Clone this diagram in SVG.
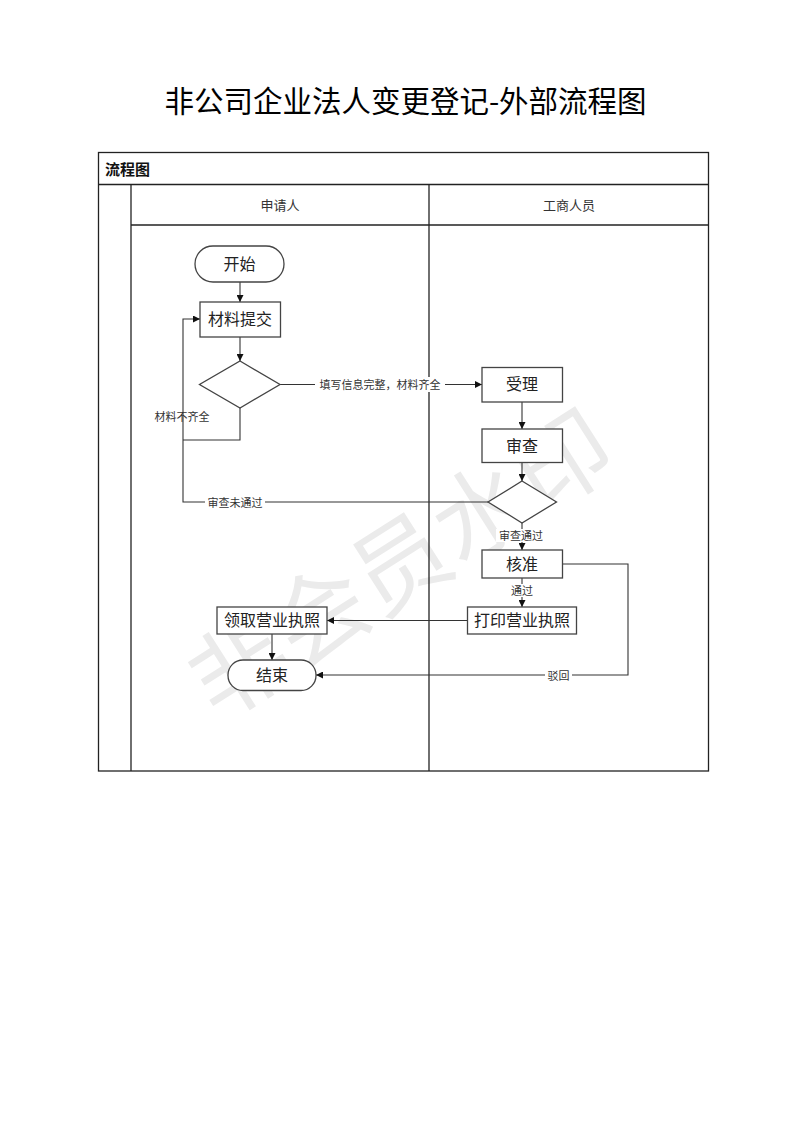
<svg xmlns="http://www.w3.org/2000/svg" width="793" height="1122" viewBox="0 0 793 1122">
<defs>
<marker id="ah" viewBox="0 0 10 10" refX="10" refY="5" markerWidth="7" markerHeight="7" markerUnits="userSpaceOnUse" orient="auto">
<path d="M0,0 L10,5 L0,10 z" fill="#111"/>
</marker>
<style>
.frame{fill:none;stroke:#222;stroke-width:1.3}
.box{fill:#fff;stroke:#444;stroke-width:1.3}
.con{fill:none;stroke:#333;stroke-width:1.1}
.arr{marker-end:url(#ah)}
.t{font-family:"Noto Sans CJK SC","Noto Sans",sans-serif;fill:#222;text-anchor:middle;dominant-baseline:central}
.node{font-size:16px}
.lbl{font-size:11px;fill:#333}
.lane{font-size:13px;fill:#333}
.bg{fill:#fff}
</style>
</defs>
<rect x="0" y="0" width="793" height="1122" fill="#fff"/>

<text x="405.5" y="99" class="t" style="font-size:29.5px;fill:#000">非公司企业法人变更登记-外部流程图</text>

<g id="watermark">
<text x="397" y="558" transform="rotate(-32.5 397 558)" class="t" style="font-size:96px;fill:#ebebeb">非会员水印</text>
</g>

<g id="frame">
<rect x="98.5" y="152.5" width="610" height="618.5" class="frame"/>
<line x1="98.5" y1="184.5" x2="708.5" y2="184.5" class="frame"/>
<line x1="131" y1="184.5" x2="131" y2="771" class="frame"/>
<line x1="131" y1="225" x2="708.5" y2="225" class="frame"/>
<line x1="429" y1="184.5" x2="429" y2="771" class="frame"/>
<text x="105" y="168" class="t" style="font-size:15px;font-weight:bold;text-anchor:start;fill:#111">流程图</text>
<text x="280" y="204" class="t lane">申请人</text>
<text x="569" y="204" class="t lane">工商人员</text>
</g>

<g id="connectors">
<path d="M240,282 V302" class="con arr"/>
<path d="M240,337 V361" class="con arr"/>
<path d="M280,384.5 H482" class="con arr"/>
<rect x="315" y="377" width="130" height="15" class="bg"/>
<text x="380" y="384" class="t lbl">填写信息完整，材料齐全</text>
<path d="M240,408 V440 H183" class="con"/>
<path d="M488,502 H183 V319 H200" class="con arr"/>
<text x="182" y="415.5" class="t lbl">材料不齐全</text>
<rect x="205" y="495" width="60" height="14" class="bg"/>
<text x="235" y="501.5" class="t lbl">审查未通过</text>
<path d="M522,402 V429" class="con arr"/>
<path d="M522,463 V481" class="con arr"/>
<path d="M522,523 V550" class="con arr"/>
<rect x="496" y="529" width="50" height="13" class="bg"/>
<text x="521" y="535" class="t lbl">审查通过</text>
<path d="M522,578 V607" class="con arr"/>
<rect x="508" y="584" width="28" height="13" class="bg"/>
<text x="522" y="590" class="t lbl">通过</text>
<path d="M467,620.5 H327" class="con arr"/>
<path d="M272,634 V660" class="con arr"/>
<path d="M562,564 H628 V675 H316" class="con arr"/>
<rect x="545" y="668" width="27" height="14" class="bg"/>
<text x="558.5" y="674.5" class="t lbl">驳回</text>
</g>

<g id="start">
<rect x="195" y="246" width="89" height="36" rx="18" ry="18" class="box"/>
<text x="239.5" y="262.5" class="t node">开始</text>
</g>
<g id="submit">
<rect x="200" y="302" width="80.5" height="35" class="box"/>
<text x="240" y="318" class="t node">材料提交</text>
</g>
<g id="check1">
<polygon points="240,361 280,384.5 240,408 199.5,384.5" class="box"/>
</g>
<g id="accept">
<rect x="482" y="367.5" width="80.5" height="34.5" class="box"/>
<text x="522" y="383" class="t node">受理</text>
</g>
<g id="review">
<rect x="482" y="429" width="80.5" height="33.5" class="box"/>
<text x="522" y="444.5" class="t node">审查</text>
</g>
<g id="check2">
<polygon points="522,481 556.5,502 522,523 488,502" class="box"/>
</g>
<g id="approve">
<rect x="482" y="550" width="80.5" height="28" class="box"/>
<text x="522" y="562.5" class="t node">核准</text>
</g>
<g id="print">
<rect x="467.5" y="607" width="109" height="27" class="box"/>
<text x="522" y="619" class="t node">打印营业执照</text>
</g>
<g id="collect">
<rect x="217" y="607" width="110" height="27" class="box"/>
<text x="272" y="619" class="t node">领取营业执照</text>
</g>
<g id="end">
<rect x="228" y="660" width="88" height="30.5" rx="15" ry="15" class="box"/>
<text x="272" y="674" class="t node">结束</text>
</g>
</svg>
